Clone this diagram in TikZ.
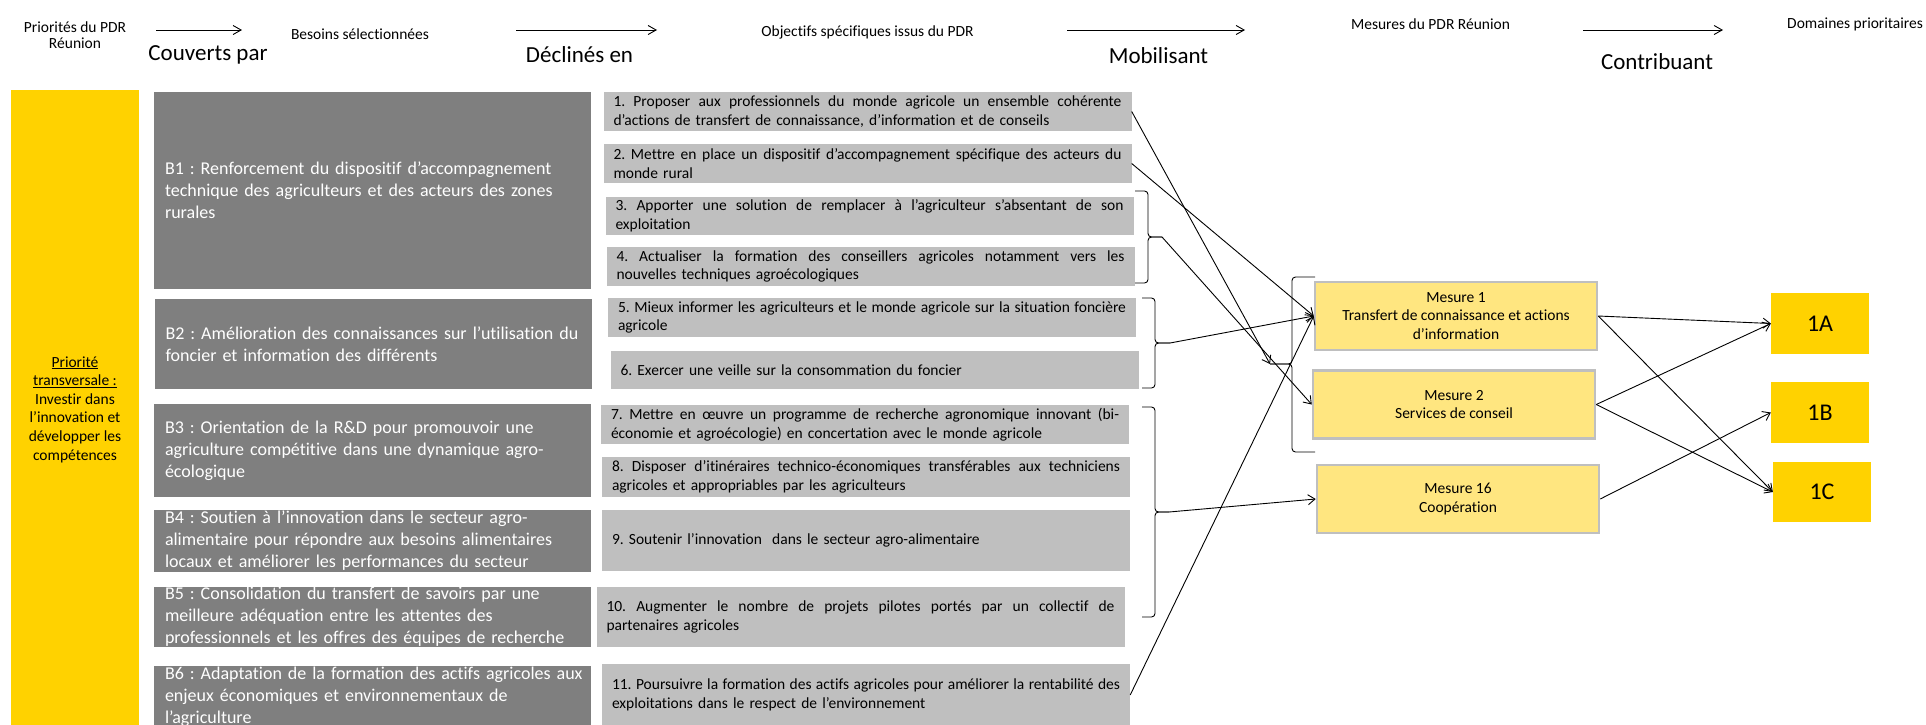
\documentclass[tikz,border=0pt]{standalone}
\usepackage{fontspec}
\setmainfont{Carlito}[Ligatures=NoCommon]
\usetikzlibrary{arrows.meta}
\definecolor{gold}{HTML}{FFD200}
\definecolor{lightyel}{HTML}{FFE680}
\definecolor{dgray}{HTML}{7F7F7F}
\definecolor{lgray}{HTML}{BFBFBF}
\frenchspacing
\newcommand\fs[2]{\fontsize{#1}{#2}\selectfont}
\newcommand\oneline[1]{\mbox{#1}}
\newskip\jskip
\jskip=3.5pt plus 1fil\relax
\newcommand\jline[1]{\leavevmode\hbox to 508pt{\spaceskip=\jskip\xspaceskip=\jskip\relax #1}}
\begin{document}
\begin{tikzpicture}[x=1pt,y=-1pt,
  needbox/.style={fill=dgray, minimum width=437, inner sep=0},
  needtxt/.style={text=white, text width=415, align=left, font=\fs{18}{22}, inner sep=0},
  objbox/.style={fill=lgray, minimum width=528, inner sep=0},
  objtxt/.style={text width=508, align=left, font=\fs{15.5}{18.6}, inner sep=0},
  mes/.style={fill=lightyel, draw=lgray, line width=2.5pt, minimum width=282, minimum height=68, align=center, font=\fs{15.5}{18.8}},
  dom/.style={fill=gold, minimum width=98, minimum height=61, font=\fs{24}{28}},
  hdr/.style={font=\fs{15.5}{16.5}, align=center, inner sep=0},
  big/.style={font=\fs{23}{27}, inner sep=0},
  conn/.style={line width=0.9pt, -{Straight Barb[length=7pt,width=10pt]}},
  harrow/.style={line width=0.9pt, -{Straight Barb[length=8pt,width=9pt]}},
  brace/.style={line width=0.9pt, rounded corners=3.5pt},
]
\useasboundingbox (0,0) rectangle (1926,724);
\clip (0,0) rectangle (1926,724);

% ---------- header ----------
\node[hdr] (hp) at (75,35) {Priorités du PDR\\Réunion};
\node[hdr] (hb) at (360,34) {Besoins sélectionnées};
\node[hdr] (ho) at (867.5,32) {Objectifs spécifiques issus du PDR};
\node[hdr] (hm) at (1430.5,24) {Mesures du PDR Réunion};
\node[hdr, anchor=west] (hd) at (1787,24) {Domaines prioritaires};
\node[big] (lc) at (208,55) {Couverts par};
\node[big] (ld) at (579.5,55) {Déclinés en};
\node[big] (lm) at (1158.5,56) {Mobilisant};
\node[big] (lt) at (1657,62) {Contribuant};
\coordinate (a1s) at (156,30); \coordinate (a1e) at (242,30);
\coordinate (a2s) at (516,30); \coordinate (a2e) at (657,30);
\coordinate (a3s) at (1067,30); \coordinate (a3e) at (1245,30);
\coordinate (a4s) at (1583,30); \coordinate (a4e) at (1723,30);
\draw[harrow] (a1s) -- (a1e);
\draw[harrow] (a2s) -- (a2e);
\draw[harrow] (a3s) -- (a3e);
\draw[harrow] (a4s) -- (a4e);

% ---------- priority ----------
\node[fill=gold, minimum width=128, minimum height=639, inner sep=0] (prio) at (75,409.5) {};
\node[font=\fs{15.5}{18.6}, align=center, inner sep=0] (priot) at (prio.center)
  {\underline{Priorité}\\\underline{transversale :}\\Investir dans\\l’innovation et\\développer les\\compétences};

% ---------- besoins ----------
\node[needbox, minimum height=197] (b1) at (372.5,190.5) {};
\node[needtxt] (b1t) at (b1.center) {\oneline{B1 : Renforcement du dispositif d’accompagnement}\\\oneline{technique des agriculteurs et des acteurs des zones}\\rurales};
\node[needbox, minimum height=90] (b2) at (373,344) {};
\node[needtxt] (b2t) at (b2.center) {\oneline{B2 : Amélioration des connaissances sur l’utilisation du}\\\oneline{foncier et information des différents}};
\node[needbox, minimum height=93] (b3) at (372.5,450.5) {};
\node[needtxt] (b3t) at (b3.center) {\oneline{B3 : Orientation de la R\&D pour promouvoir une}\\\oneline{agriculture compétitive dans une dynamique agro-}\\écologique};
\node[needbox, minimum height=62] (b4) at (372.5,541) {};
\node[needtxt] (b4t) at (b4.center) {\oneline{B4 : Soutien à l’innovation dans le secteur agro-}\\\oneline{alimentaire pour répondre aux besoins alimentaires}\\\oneline{locaux et améliorer les performances du secteur}};
\node[needbox, minimum height=60] (b5) at (372.5,617) {};
\node[needtxt] (b5t) at (b5.center) {\oneline{B5 : Consolidation du transfert de savoirs par une}\\\oneline{meilleure adéquation entre les attentes des}\\\oneline{professionnels et les offres des équipes de recherche}};
\node[needbox, minimum height=62] (b6) at (372.5,697) {};
\node[needtxt] (b6t) at (b6.center) {\oneline{B6 : Adaptation de la formation des actifs agricoles aux}\\\oneline{enjeux économiques et environnementaux de}\\l’agriculture};

% ---------- objectifs (boxes) ----------
\node[objbox, minimum height=39] (o1) at (867.5,111.5) {};
\node[objbox, minimum height=39] (o2) at (867.5,163.5) {};
\node[objbox, minimum height=38] (o3) at (869.5,216) {};
\node[objbox, minimum height=39] (o4) at (870.5,266.5) {};
\node[objbox, minimum height=39] (o5) at (872,317.5) {};
\node[objbox, minimum height=38] (o6) at (874.5,370) {};
\node[objbox, minimum height=39] (o7) at (865,424.5) {};
\node[objbox, minimum height=40] (o8) at (866,477) {};
\node[objbox, minimum height=61] (o9) at (866,540.5) {};
\node[objbox, minimum height=60] (o10) at (860.5,617) {};
\node[objbox, minimum height=62] (o11) at (866,695) {};
% ---------- objectifs (texts) ----------
\node[objtxt] (o11t) at (o11.center) {\jline{11. Poursuivre la formation des actifs agricoles pour améliorer la rentabilité des}\\exploitations dans le respect de l’environnement};
\node[objtxt] (o10t) at (o10.center) {\jline{10. Augmenter le nombre de projets pilotes portés par un collectif de}\\partenaires agricoles};
\node[objtxt] (o9t) at (o9.center) {9. Soutenir l’innovation\ \ dans le secteur agro-alimentaire};
\node[objtxt] (o8t) at (o8.center) {\jline{8. Disposer d’itinéraires technico-économiques transférables aux techniciens}\\agricoles et appropriables par les agriculteurs};
\node[objtxt] (o7t) at (o7.center) {\jline{7. Mettre en œuvre un programme de recherche agronomique innovant (bi-}\\économie et agroécologie) en concertation avec le monde agricole};
\node[objtxt] (o6t) at (o6.center) {6. Exercer une veille sur la consommation du foncier};
\node[objtxt] (o5t) at (o5.center) {\jline{5. Mieux informer les agriculteurs et le monde agricole sur la situation foncière}\\agricole};
\node[objtxt] (o4t) at (o4.center) {\jline{4. Actualiser la formation des conseillers agricoles notamment vers les}\\nouvelles techniques agroécologiques};
\node[objtxt] (o3t) at (o3.center) {\jline{3. Apporter une solution de remplacer à l’agriculteur s’absentant de son}\\exploitation};
\node[objtxt] (o2t) at (o2.center) {\jline{2. Mettre en place un dispositif d’accompagnement spécifique des acteurs du}\\monde rural};
\node[objtxt] (o1t) at (o1.center) {\jline{1. Proposer aux professionnels du monde agricole un ensemble cohérente}\\d’actions de transfert de connaissance, d’information et de conseils};

% ---------- mesures ----------
\node[mes] (m1) at (1456,316) {Mesure 1\\Transfert de connaissance et actions\\d’information};
\node[mes] (m2) at (1454,404.5) {Mesure 2\\Services de conseil};
\node[mes] (m16) at (1458,499) {Mesure 16\\Coopération};

% ---------- domaines ----------
\node[dom] (d1a) at (1820,323.5) {1A};
\node[dom] (d1b) at (1820,412.5) {1B};
\node[dom, minimum height=60] (d1c) at (1822,492) {1C};

% ---------- braces ----------
\coordinate (br34) at (1162,237);
\coordinate (br56) at (1170,343);
\coordinate (br710) at (1169,512);
\coordinate (lb) at (1270,364);
\draw[brace] (1135,191) -- (1148,191) -- (1148,237) -- (br34);
\draw[brace] (1135,283) -- (1148,283) -- (1148,237) -- (br34);
\draw[brace] (1142,298) -- (1155,298) -- (1155,343) -- (br56);
\draw[brace] (1142,388) -- (1155,388) -- (1155,343) -- (br56);
\draw[brace] (1142,407) -- (1155,407) -- (1155,512) -- (br710);
\draw[brace] (1142,617) -- (1155,617) -- (1155,512) -- (br710);
\draw[brace] (1315,277) -- (1292,277) -- (1292,364) -- (lb);
\draw[brace] (1315,452) -- (1292,452) -- (1292,364) -- (lb);

% ---------- connectors ----------
\draw[conn] (o1.east) -- (lb);
\draw[conn] (o2.east) -- (m1.west);
\draw[conn] (br34) -- (m2.west);
\draw[conn] (br56) -- (m1.west);
\draw[conn] (br710) -- (m16.west);
\draw[conn] (o11.east) -- (m1.west);
\draw[conn] (m1.east) -- (d1a.west);
\draw[conn] (m1.east) -- (d1c.west);
\draw[conn] (m2.east) -- (d1a.west);
\draw[conn] (m2.east) -- (d1c.west);
\draw[conn] (m16.east) -- (d1b.west);
\end{tikzpicture}
\end{document}
